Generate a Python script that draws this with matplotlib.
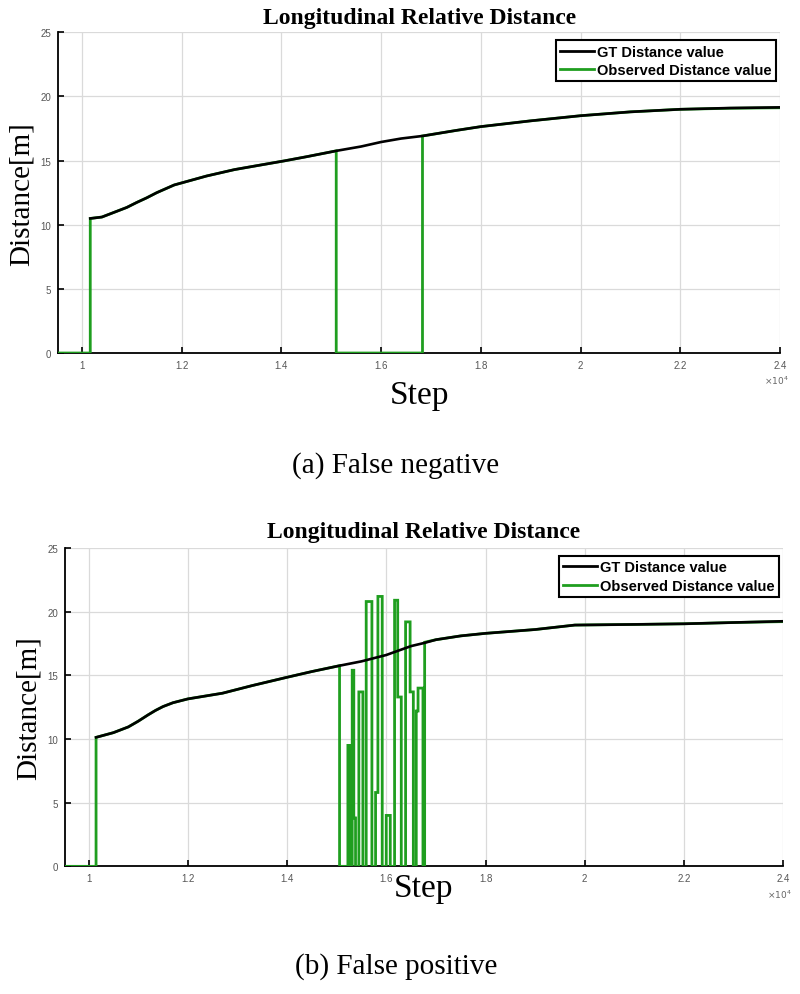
import matplotlib
matplotlib.use("Agg")
import matplotlib.pyplot as plt
from matplotlib.ticker import FixedLocator, FuncFormatter
from matplotlib.lines import Line2D

# ---------------- data ----------------
# (a) False negative
fn_gt_x = [10167, 10400, 10700, 10900, 11100, 11300, 11500, 11850, 12500, 13060,
           13500, 14060, 14500, 15100, 15600, 16000, 16400, 16830, 17500, 18000,
           19000, 20000, 21000, 22000, 23000, 24000]
fn_gt_y = [10.49, 10.6, 11.05, 11.35, 11.74, 12.1, 12.5, 13.1, 13.8, 14.3,
           14.6, 14.98, 15.3, 15.76, 16.1, 16.45, 16.72, 16.92, 17.35, 17.65,
           18.1, 18.5, 18.8, 19.0, 19.1, 19.15]
fn_obs_x = [9530, 10167, 10167, 10400, 10700, 10900, 11100, 11300, 11500, 11850,
            12500, 13060, 13500, 14060, 14500, 15100, 15100, 16830, 16830, 17500,
            18000, 19000, 20000, 21000, 22000, 23000, 24000]
fn_obs_y = [0, 0, 10.49, 10.6, 11.05, 11.35, 11.74, 12.1, 12.5, 13.1,
            13.8, 14.3, 14.6, 14.98, 15.3, 15.76, 0, 0, 16.92, 17.35,
            17.65, 18.1, 18.5, 18.8, 19.0, 19.08, 19.12]

# (b) False positive
fp_gt_x = [10150, 10500, 10800, 11000, 11200, 11350, 11500, 11700, 12000, 12700,
           13300, 14000, 14500, 15058, 15500, 16000, 16500, 16770, 17000, 17500,
           18000, 19000, 19800, 21000, 22000, 23000, 24000]
fp_gt_y = [10.13, 10.5, 10.95, 11.4, 11.9, 12.25, 12.55, 12.85, 13.15, 13.6,
           14.2, 14.85, 15.3, 15.76, 16.1, 16.6, 17.3, 17.55, 17.8, 18.1,
           18.3, 18.6, 18.95, 19.0, 19.05, 19.15, 19.25]
fp_before_x = [9530, 10150, 10150, 10500, 10800, 11000, 11200, 11350, 11500, 11700,
               12000, 12700, 13300, 14000, 14500, 15058]
fp_before_y = [0, 0, 10.13, 10.5, 10.95, 11.4, 11.9, 12.25, 12.55, 12.85,
               13.15, 13.6, 14.2, 14.85, 15.3, 15.76]
fp_edges = [15058, 15226, 15273, 15313, 15345, 15380, 15447, 15528, 15595, 15710,
            15784, 15831, 15918, 15999, 16080, 16167, 16230, 16302, 16389, 16480,
            16545, 16604, 16640, 16739, 16773]
fp_levels = [0, 9.5, 0, 15.4, 3.8, 0, 13.7, 0, 20.8, 0,
             5.8, 21.2, 0, 4.0, 0, 20.9, 13.3, 0, 19.2, 13.7,
             0, 12.2, 14.0, 0, 17.6]
fp_after_x = [16773, 17000, 17500, 18000, 19000, 19800, 21000, 22000, 23000, 24000]
fp_after_y = [17.6, 17.8, 18.1, 18.3, 18.6, 18.95, 19.0, 19.05, 19.15, 19.22]

x_ticks = [10000, 12000, 14000, 16000, 18000, 20000, 22000, 24000]
y_ticks = [0, 5, 10, 15, 20, 25]
title_text = "Longitudinal Relative Distance"
legend_labels = ["GT Distance value", "Observed Distance value"]
captions = ["(a) False negative", "(b) False positive"]

GREEN = "#1f9e1f"
SERIF = ["Liberation Serif", "DejaVu Serif"]
SANS = ["Liberation Sans", "DejaVu Sans"]


def build_fp_obs():
    xs = list(fp_before_x)
    ys = list(fp_before_y)
    prev = ys[-1]
    for x, lv in zip(fp_edges, fp_levels):
        xs += [x, x]
        ys += [prev, lv]
        prev = lv
    xs += fp_after_x[1:]
    ys += fp_after_y[1:]
    return xs, ys


fig = plt.figure(figsize=(8, 9.95), dpi=100)
ax1 = fig.add_axes([0.0725, 0.6442, 0.9025, 0.3223])
ax2 = fig.add_axes([0.081, 0.1283, 0.898, 0.3199])

fp_obs_x, fp_obs_y = build_fp_obs()

series = [
    (ax1, fn_gt_x, fn_gt_y, fn_obs_x, fn_obs_y, 7),
    (ax2, fp_gt_x, fp_gt_y, fp_obs_x, fp_obs_y, -8),
]

for ax, gx, gy, ox, oy, xpad in series:
    ax.plot(ox, oy, color=GREEN, lw=2.0, zorder=3, solid_joinstyle="miter")
    ax.plot(gx, gy, color="black", lw=1.9, zorder=4)
    ax.set_xlim(9520, 24000)
    ax.set_ylim(0, 25)
    ax.xaxis.set_major_locator(FixedLocator(x_ticks))
    ax.yaxis.set_major_locator(FixedLocator(y_ticks))
    ax.xaxis.set_major_formatter(FuncFormatter(lambda v, p: "%g" % (v / 1e4)))
    ax.yaxis.set_major_formatter(FuncFormatter(lambda v, p: "%g" % v))
    ax.grid(True, color="#dadada", lw=0.9)
    ax.set_axisbelow(True)
    for s in ["top", "right"]:
        ax.spines[s].set_visible(False)
    for s in ["left", "bottom"]:
        ax.spines[s].set_linewidth(1.3)
    ax.tick_params(direction="in", length=4, width=1.2, labelsize=7,
                   labelcolor="#555555", pad=5)
    for lab in ax.get_xticklabels() + ax.get_yticklabels():
        lab.set_family(SANS)
    ax.text(0.995, -0.085, r"$\times10^4$", transform=ax.transAxes, ha="center",
            va="center", fontsize=6.5, color="#666666")
    handles = [Line2D([], [], color="black", lw=2.0),
               Line2D([], [], color=GREEN, lw=2.0)]
    leg = ax.legend(handles, legend_labels, loc="upper right",
                    bbox_to_anchor=(0.994, 0.975), frameon=True, fancybox=False,
                    edgecolor="black", framealpha=1, borderpad=0.3,
                    labelspacing=0.3, handlelength=2.3, handletextpad=0.2,
                    borderaxespad=0.0,
                    prop={"family": SANS, "size": 10.5, "weight": "bold"})
    leg.get_frame().set_linewidth(1.5)
    ax.set_ylabel("Distance[m]", family=SERIF, fontsize=21, labelpad=4)
    ax.set_xlabel("Step", family=SERIF, fontsize=24, labelpad=xpad)

fig.text(0.524, 0.981, title_text, family=SERIF, fontsize=17, weight="bold",
         ha="center", va="center")
fig.text(0.53, 0.4653, title_text, family=SERIF, fontsize=17, weight="bold",
         ha="center", va="center")
fig.text(0.495, 1 - 466 / 995, captions[0], family=SERIF, fontsize=21,
         ha="center", va="center")
fig.text(0.495, 1 - 967 / 995, captions[1], family=SERIF, fontsize=21,
         ha="center", va="center")

fig.savefig("out.png", dpi=100)
